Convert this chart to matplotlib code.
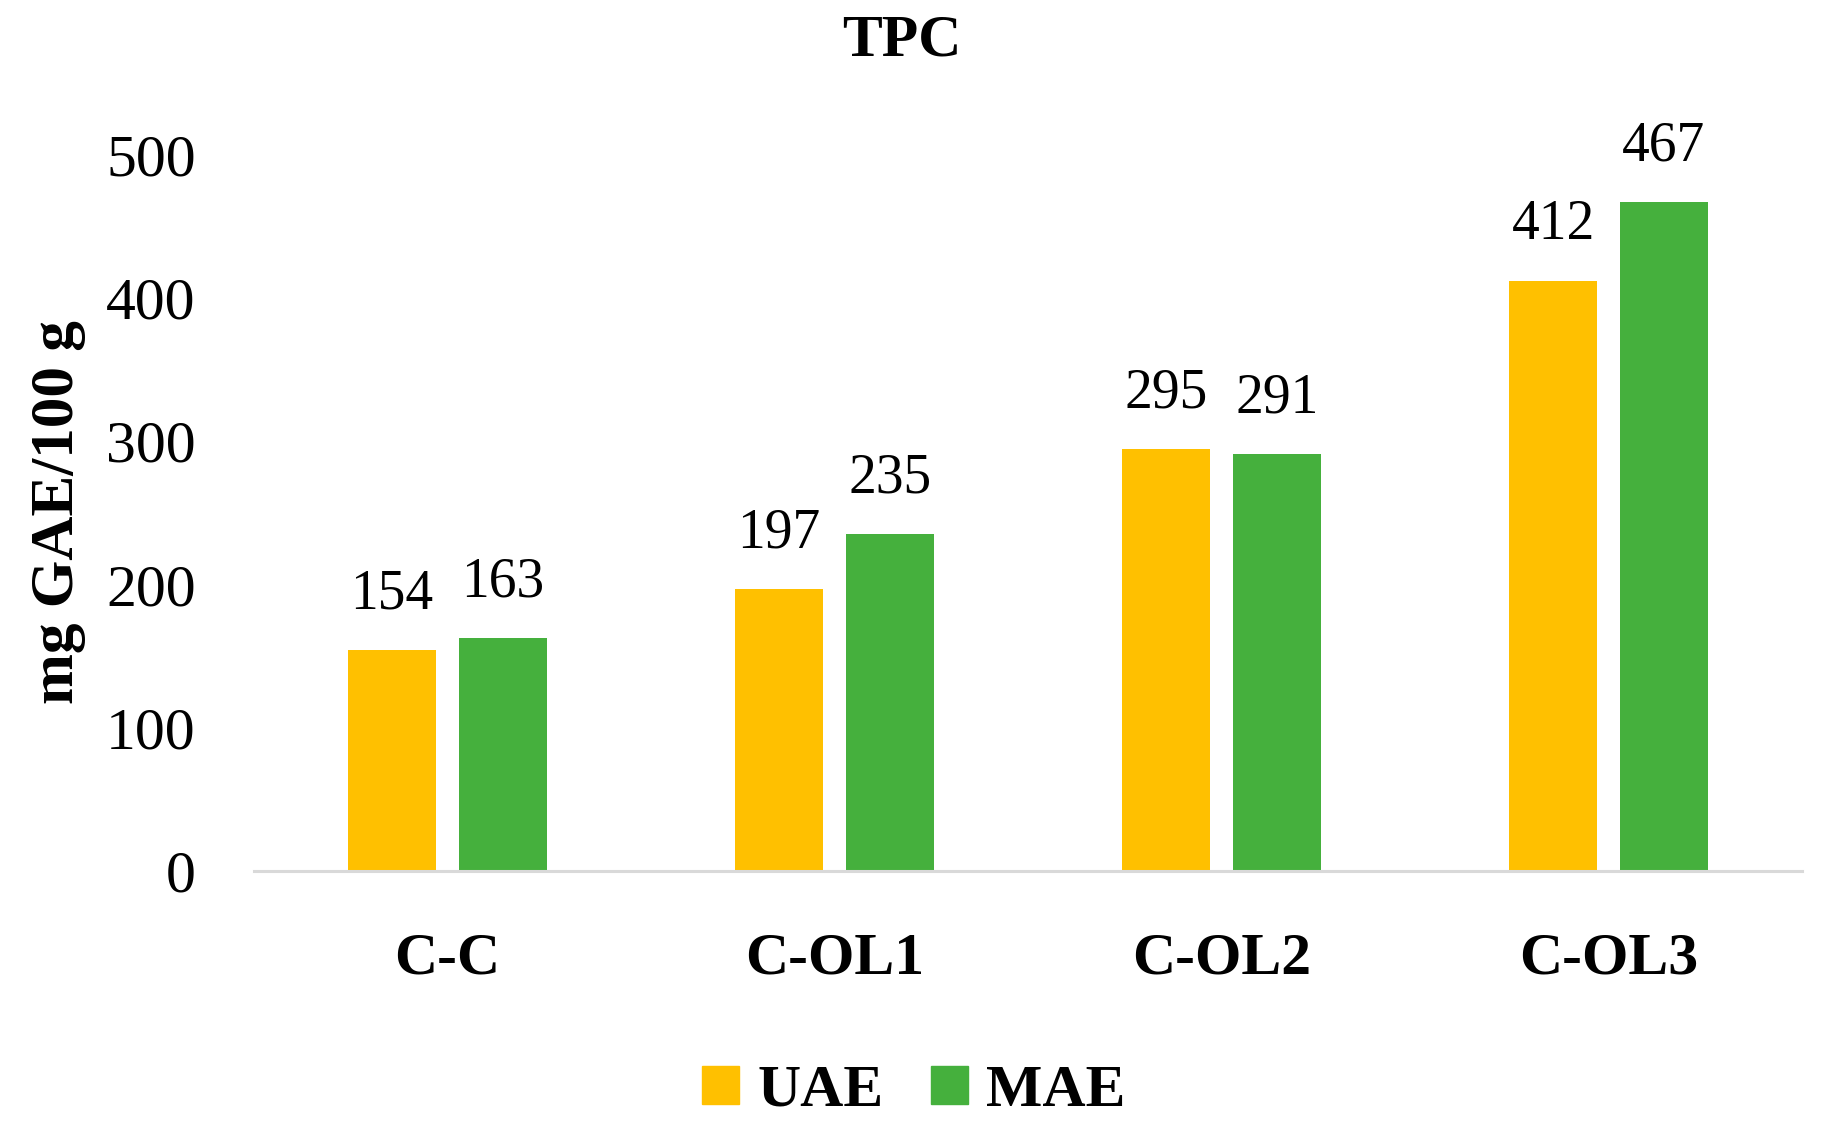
import matplotlib
matplotlib.use("Agg")
import matplotlib.pyplot as plt
import numpy as np
from matplotlib.patches import Patch

categories = ["C-C", "C-OL1", "C-OL2", "C-OL3"]
uae = [154, 197, 295, 412]
mae = [163, 235, 291, 467]
series_names = ["UAE", "MAE"]
yticks = [0, 100, 200, 300, 400, 500]

YELLOW = "#FFC000"
GREEN = "#45B03D"
plt.rcParams['font.family'] = ['Liberation Serif', 'DejaVu Serif']

fig = plt.figure(figsize=(18.25, 11.25), dpi=100)
ax = fig.add_axes([254/1825, 1-871/1125, (1802-254)/1825, (871-155)/1125])

x = np.arange(len(categories))
w = 0.226
off = 0.143
b1 = ax.bar(x - off, uae, w, color=YELLOW)
b2 = ax.bar(x + off, mae, w, color=GREEN)

for bars, vals in ((b1, uae), (b2, mae)):
    for r, v in zip(bars, vals):
        ax.annotate(str(v), (r.get_x() + r.get_width()/2, v), xytext=(0, 40),
                    textcoords='offset points', ha='center', va='center',
                    fontsize=40, annotation_clip=False)

ax.set_xlim(-0.5, len(categories) - 0.5)
ax.set_ylim(0, 500)
ax.set_yticks(yticks)
ax.set_yticklabels([str(t) for t in yticks], fontsize=43)
ax.set_xticks(x)
ax.set_xticklabels(categories, fontsize=43, fontweight='bold')
ax.tick_params(axis='y', length=0, pad=42)
ax.tick_params(axis='x', length=0, pad=44)
for s in ['top', 'right', 'left']:
    ax.spines[s].set_visible(False)
ax.spines['bottom'].set_color('#D9D9D9')
ax.spines['bottom'].set_linewidth(2.2)

fig.text(58/1825, 0.545, "mg GAE/100 g", rotation=90, ha='center', va='center',
         fontsize=44, fontweight='bold')
fig.text(0.494, 1-41/1125, "TPC", ha='center', va='center', fontsize=43, fontweight='bold')

handles = [Patch(color=YELLOW, label=series_names[0]), Patch(color=GREEN, label=series_names[1])]
fig.legend(handles=handles, loc='center', bbox_to_anchor=(914/1825, 1-1092/1125), ncol=2,
           frameon=False, prop={'size': 43, 'weight': 'bold'}, handlelength=0.62,
           handleheight=0.62, handletextpad=0.3, columnspacing=0.8)

fig.savefig("out.png", dpi=100)
